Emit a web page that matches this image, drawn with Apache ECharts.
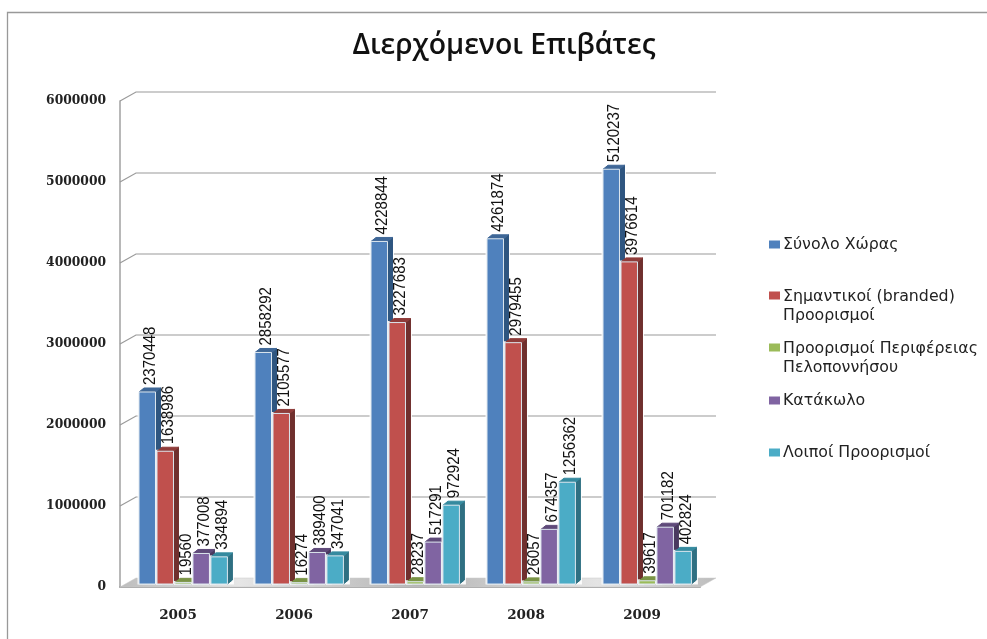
<!DOCTYPE html>
<html><head><meta charset="utf-8">
<style>html,body{margin:0;padding:0;background:#fff}#c{width:987px;height:639px}</style>
<script src="https://cdn.jsdelivr.net/npm/echarts@6/dist/echarts.min.js"></script>
</head><body><div id="c"></div>
<script>
const titleText = 'Διερχόμενοι Επιβάτες';
const years = ['2005','2006','2007','2008','2009'];
const seriesNames = ['Σύνολο Χώρας','Σημαντικοί (branded) Προορισμοί','Προορισμοί Περιφέρειας Πελοποννήσου','Κατάκωλο','Λοιποί Προορισμοί'];
const legendLines = [['Σύνολο Χώρας'],['Σημαντικοί (branded)','Προορισμοί'],['Προορισμοί Περιφέρειας','Πελοποννήσου'],['Κατάκωλο'],['Λοιποί Προορισμοί']];
const total = [2370448,2858292,4228844,4261874,5120237];
const branded = [1638986,2105577,3227683,2979455,3976614];
const peloponnese = [19560,16274,28237,26057,39617];
const katakolo = [377008,389400,517291,674357,701182];
const others = [334894,347041,972924,1256362,402824];
const allValues = [total,branded,peloponnese,katakolo,others];
const gridTicks = [0,1000000,2000000,3000000,4000000,5000000,6000000];
const frontColors = ['#4F81BD','#C0504D','#9BBB59','#8064A2','#4BACC6'];
const topColors = ['#3F6797','#8F3C3A','#7A9446','#5F4A7A','#358A9F'];
const sideColors = ['#2F5680','#70302E','#5E7236','#4A3A60','#2F7082'];
const legendTops = [235,287,339,391,443];

const DX = 16, DY = 9;   // wall depth
const dx = 5, dy = 4;    // bar depth
const oy = 3;            // bar offset from the front plane

const font = '"DejaVu Serif"';
const barSeries = allValues.map((vals, s) => ({
  name: seriesNames[s], type: 'custom', z: 3 + s,
  itemStyle: {color: frontColors[s]},
  data: vals.map((v, i) => [i, v]),
  encode: {x: 0, y: 1},
  renderItem(params, api) {
    const top = api.coord([api.value(0), api.value(1)]);
    const base = api.coord([api.value(0), 0]);
    const step = api.size([1, 0])[0];
    const w = step * 0.142, pitch = step * 0.155;
    const x = top[0] - step * 0.336 + pitch * s;
    const y1 = top[1] - oy, y0 = base[1] - oy;
    const poly = (pts, fill, stroke) => ({type: 'polygon', shape: {points: pts}, style: {fill, stroke: stroke || fill, lineWidth: 1}});
    return {type: 'group', children: [
      {type:'rect', shape:{x:x-1.5,y:y1-1.5,width:w+dx+3,height:y0-y1+2}, style:{fill:'#fff',opacity:0.9}, silent:true},
      poly([[x+w,y1],[x+w+dx,y1-dy],[x+w+dx,y0-dy],[x+w,y0]], sideColors[s]),
      poly([[x,y1],[x+dx,y1-dy],[x+w+dx,y1-dy],[x+w,y1]], topColors[s]),
      {type:'rect', shape:{x,y:y1,width:w,height:y0-y1}, style:{fill:frontColors[s],stroke:'#DCE6EE',lineWidth:1}},
      {type:'text', x:x+w/2+3, y:y1-dy-3, rotation:Math.PI/2, scaleY:1.12, z2:100,
       style:{text:String(api.value(1)), fill:'#111', font:'15px "Liberation Sans"', textAlign:'left', textVerticalAlign:'middle'}}
    ]};
  }
}));

const wall = {
  type:'custom', z:1, silent:true, legendHoverLink:false, tooltip:{show:false},
  data: gridTicks.map(v => [0, v]), encode:{x:0,y:1},
  renderItem(params, api){
    const p = api.coord([0, api.value(1)]);
    const step = api.size([1,0])[0];
    const left = p[0] - step/2, right = left + step*years.length;
    if (api.value(1) === 0) {
      return {type:'polygon', shape:{points:[[left,p[1]],[left+DX,p[1]-DY],[right+DX,p[1]-DY],[right,p[1]]]},
        style:{stroke:'#C8C8C8',lineWidth:0.5,fill:{type:'linear',x:0,y:0,x2:1,y2:0.02,colorStops:[
          {offset:0,color:'#BDBDBD'},{offset:0.2,color:'#E6E6E6'},{offset:0.5,color:'#B5B5B5'},{offset:0.8,color:'#E4E4E4'},{offset:1,color:'#BDBDBD'}]}}};
    }
    return {type:'polyline', shape:{points:[[left,p[1]],[left+DX,p[1]-DY],[right+DX,p[1]-DY]]},
      style:{stroke:'#9A9A9A',lineWidth:1.2,fill:null}};
  }
};

const legends = seriesNames.map((name, s) => {
  const two = legendLines[s].length > 1;
  return {
    left: 769, top: legendTops[s], orient:'vertical', padding:0,
    data: [{name, icon: two ? 'path://M0,0H11V8H0Z M0,29H0.01Z' : 'rect'}],
    itemWidth: 11, itemHeight: two ? 29 : 8, itemGap: 0, selectedMode:false,
    formatter: () => legendLines[s].join('\n'),
    textStyle: {fontFamily:'"DejaVu Sans"', fontSize:15.8, color:'#222', lineHeight:19, padding:[0,0,0,-2]}
  };
});

const chart = echarts.init(document.getElementById('c'), null, {renderer:'canvas'});
chart.setOption({
  animation:false, backgroundColor:'#fff',
  title:{text:titleText, left:499, top:27, textAlign:'center',
    textStyle:{fontFamily:'"Open Sans"', fontSize:28.4, fontWeight:600, color:'#111'}},
  legend: legends,
  grid:{left:120, top:101, width:580, height:486, containLabel:false},
  xAxis:{type:'category', data:years, boundaryGap:true,
    axisLine:{lineStyle:{color:'#A6A6A6',width:2}}, axisTick:{show:false},
    axisLabel:{margin:21, fontFamily:font, fontWeight:'bold', fontSize:13.5, color:'#222'}},
  yAxis:{type:'value', min:0, max:6000000, interval:1000000,
    splitLine:{show:false}, axisTick:{show:false},
    axisLine:{show:true, lineStyle:{color:'#A0A0A0',width:1.5}},
    axisLabel:{margin:14, fontFamily:font, fontWeight:'bold', fontSize:12.3, color:'#222', formatter:v => String(v)}},
  series:[wall, ...barSeries],
  graphic:[{type:'polyline', silent:true, shape:{points:[[7.5,639],[7.5,12.5],[987,12.5]]}, style:{stroke:'#999999',lineWidth:1.3,fill:null}}]
});
</script></body></html>
